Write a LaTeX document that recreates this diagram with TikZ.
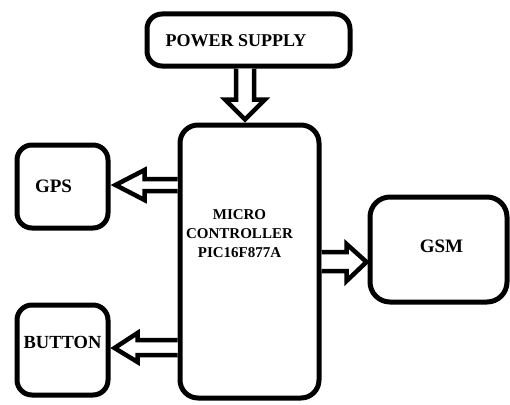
\documentclass[tikz,border=0pt]{standalone}
\usepackage{fontspec}
\setmainfont{Liberation Serif}
\usetikzlibrary{calc}
\begin{document}
\begin{tikzpicture}[x=1pt,y=-1pt,
  box/.style={draw=black,line width=5pt,rounded corners=15pt,fill=white,inner sep=0pt},
  lbl/.style={font=\bfseries,inner sep=0pt,align=center,text=black},
  blockarrow/.style={draw=black,line width=4.5pt,fill=white,line join=miter}]
\useasboundingbox (0,0) rectangle (510,404);
% boxes
\node[box,minimum width=203pt,minimum height=52pt] (power) at (248.5,40) {};
\node[box,minimum width=139pt,minimum height=273pt,rounded corners=18pt] (micro) at (249.5,261.5) {};
\node[box,minimum width=91pt,minimum height=83pt] (gps) at (62.5,186.5) {};
\node[box,minimum width=91pt,minimum height=90pt] (button) at (62.5,350) {};
\node[box,minimum width=137pt,minimum height=105pt,rounded corners=20pt] (gsm) at (438.5,249.5) {};
% labels
\node[lbl,font=\bfseries\fontsize{18}{20}\selectfont] (tpower) at (236,41) {POWER SUPPLY};
\node[lbl,font=\bfseries\fontsize{15}{19}\selectfont] (tmicro) at (239.5,234) {MICRO\\CONTROLLER\\PIC16F877A};
\node[lbl,font=\bfseries\fontsize{19}{21}\selectfont] (tgps) at (53.5,186) {GPS};
\node[lbl,font=\bfseries\fontsize{18.5}{21}\selectfont] (tbutton) at (62.5,342) {BUTTON};
\node[lbl,font=\bfseries\fontsize{19}{21}\selectfont] (tgsm) at (441.5,246) {GSM};
% power -> micro
\draw[blockarrow]
  ($(power.south)+(-12.5,0)$) -- ++(0,31) -- ++(-11,0)
  -- ($(micro.north)+(-4.5,-3)$)
  -- ($(power.south)+(16.5,31)$) -- ++(-11,0) -- ($(power.south)+(5.5,0)$);
% micro -> gps
\draw[blockarrow]
  ($(micro.west)+(0,-82.5)$) -- ++(-33,0) -- ++(0,-9)
  -- ($(gps.east)+(5,-1.5)$)
  -- ($(micro.west)+(-33,-61.5)$) -- ++(0,-9) -- ++(33,0);
% micro -> button
\draw[blockarrow]
  ($(micro.west)+(0,78.5)$) -- ++(-40,0) -- ++(0,-7)
  -- ($(button.east)+(4,-2)$)
  -- ($(micro.west)+(-40,100.5)$) -- ++(0,-7) -- ++(40,0);
% micro -> gsm
\draw[blockarrow]
  ($(micro.east)+(0,-9.5)$) -- ++(25,0) -- ++(0,-8)
  -- ($(gsm.west)+(-1,12.5)$)
  -- ($(micro.east)+(25,19.5)$) -- ++(0,-10) -- ++(-25,0);
\end{tikzpicture}
\end{document}
